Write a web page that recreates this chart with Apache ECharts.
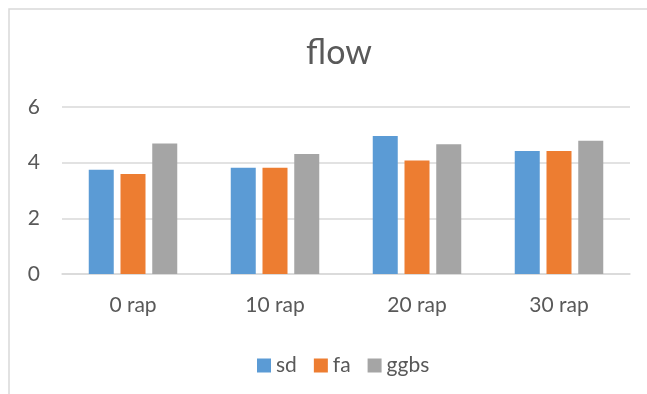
<!DOCTYPE html>
<html>
<head>
<meta charset="utf-8">
<script src="https://cdn.jsdelivr.net/npm/echarts@6/dist/echarts.min.js"></script>
<style>
  html, body { margin: 0; padding: 0; background: #fff; }
  #chart { width: 647px; height: 394px; }
</style>
</head>
<body>
<div id="chart"></div>
<script>
// Flow values per replacement level for each mix
const categories = ['0 rap', '10 rap', '20 rap', '30 rap'];
const sd   = [3.75, 3.82, 4.96, 4.42];
const fa   = [3.59, 3.82, 4.08, 4.42];
const ggbs = [4.69, 4.31, 4.66, 4.79];
const yTicks = [0, 2, 4, 6];

const textColor = '#595959';
const gridColor = '#d9d9d9';
const font = 'Lato, "Open Sans", sans-serif';

const chart = echarts.init(document.getElementById('chart'), null, { renderer: 'canvas' });

function barSeries(name, data, color) {
  return {
    name: name,
    type: 'bar',
    data: data,
    barWidth: 25,
    barGap: '27%',
    itemStyle: { color: color },
    emphasis: { disabled: true }
  };
}

chart.setOption({
  animation: false,
  backgroundColor: '#fff',
  graphic: [{
    type: 'rect',
    shape: { x: 9, y: 9, width: 660, height: 420 },
    style: { fill: 'none', stroke: gridColor, lineWidth: 1.5 },
    silent: true,
    z: -10
  }],
  title: {
    text: 'flow',
    left: 334,
    top: 31,
    textAlign: 'center',
    textStyle: { color: textColor, fontSize: 34, fontWeight: 'normal', fontFamily: font }
  },
  legend: {
    data: ['sd', 'fa', 'ggbs'],
    left: 252,
    top: 350,
    itemWidth: 14,
    itemHeight: 14,
    itemGap: 17,
    icon: 'rect',
    textStyle: { color: textColor, fontSize: 21, fontFamily: font, padding: [0, 0, 0, 0] }
  },
  grid: { left: 62, right: 17, top: 107, bottom: 120 },
  xAxis: {
    type: 'category',
    data: categories,
    axisLine: { lineStyle: { color: gridColor, width: 1.5 } },
    axisTick: { show: false },
    axisLabel: { color: textColor, fontSize: 21, fontFamily: font, margin: 21 }
  },
  yAxis: {
    type: 'value',
    min: yTicks[0],
    max: yTicks[yTicks.length - 1],
    interval: 2,
    axisLine: { show: false },
    axisTick: { show: false },
    axisLabel: { color: textColor, fontSize: 21, fontFamily: font, margin: 22 },
    splitLine: { lineStyle: { color: gridColor, width: 1.5 } }
  },
  series: [
    barSeries('sd', sd, '#5B9BD5'),
    barSeries('fa', fa, '#ED7D31'),
    barSeries('ggbs', ggbs, '#A5A5A5')
  ]
});
</script>
</body>
</html>
